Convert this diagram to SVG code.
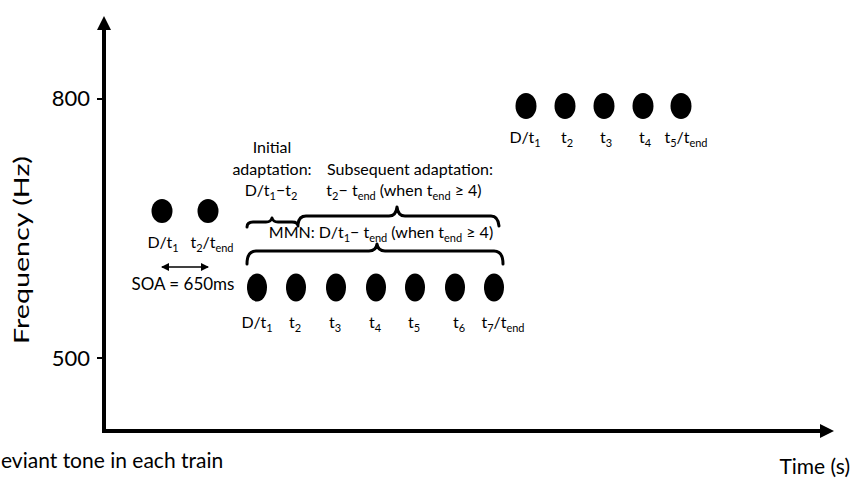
<svg xmlns="http://www.w3.org/2000/svg" width="853" height="479" viewBox="0 0 853 479">
  <style>
    text { font-family: Lato, "Liberation Sans", sans-serif; fill: #000; }
    .lbl { font-size: 16px; text-anchor: middle; }
    .note { font-size: 16px; text-anchor: middle; }
    .tick { font-size: 22px; text-anchor: end; }
    .axis-title { font-size: 21px; }
    .sub { font-size: 11px; }
    .tone { fill: #000; }
    .axis { stroke: #000; stroke-width: 4; fill: none; }
    .brace { stroke: #000; stroke-width: 3; fill: none; stroke-linecap: round; stroke-linejoin: round; }
  </style>
  <defs>
    <marker id="axisHead" markerUnits="userSpaceOnUse" markerWidth="14" markerHeight="14" viewBox="0 0 14 14" refX="2" refY="7" orient="auto">
      <path d="M0,0 L14,7 L0,14 Z" fill="#000"/>
    </marker>
    <marker id="smallHead" markerUnits="userSpaceOnUse" markerWidth="8" markerHeight="8" viewBox="0 0 8 8" refX="7" refY="4" orient="auto-start-reverse">
      <path d="M0,0 L8,4 L0,8 Z" fill="#000"/>
    </marker>
  </defs>

  <rect width="853" height="479" fill="#fff"/>

  <!-- axes -->
  <g id="axes">
    <line class="axis" x1="104" y1="433" x2="104" y2="28" marker-end="url(#axisHead)"/>
    <line class="axis" x1="102" y1="431" x2="822" y2="431" marker-end="url(#axisHead)"/>
    <line x1="97" y1="99" x2="104" y2="99" stroke="#000" stroke-width="2"/>
    <line x1="97" y1="358" x2="104" y2="358" stroke="#000" stroke-width="2"/>
    <text class="tick" x="90" y="106">800</text>
    <text class="tick" x="90" y="366">500</text>
    <text class="axis-title" transform="translate(29,250) rotate(-90)" text-anchor="middle" font-size="22" textLength="188" lengthAdjust="spacingAndGlyphs">Frequency (Hz)</text>
    <text class="axis-title" x="850" y="474" text-anchor="end">Time (s)</text>
    <text class="axis-title" x="1" y="468" font-size="19.5">eviant tone in each train</text>
  </g>

  <!-- two-tone train -->
  <g id="train-short">
    <ellipse class="tone" cx="162" cy="211" rx="10.5" ry="12"/>
    <ellipse class="tone" cx="208" cy="211" rx="10.5" ry="12"/>
    <text class="lbl" x="163" y="248">D/t<tspan class="sub" dy="4">1</tspan></text>
    <text class="lbl" x="212" y="248">t<tspan class="sub" dy="4">2</tspan><tspan dy="-4">/t</tspan><tspan class="sub" dy="4">end</tspan></text>
  </g>

  <!-- stimulus onset asynchrony -->
  <g id="soa">
    <line x1="162" y1="267" x2="208" y2="267" stroke="#000" stroke-width="1.5" marker-start="url(#smallHead)" marker-end="url(#smallHead)"/>
    <text x="183" y="290" font-size="17" text-anchor="middle">SOA = 650ms</text>
  </g>

  <!-- seven-tone train -->
  <g id="train-long">
    <ellipse class="tone" cx="257" cy="287.5" rx="10" ry="14"/>
    <ellipse class="tone" cx="296" cy="287.5" rx="10" ry="14"/>
    <ellipse class="tone" cx="336" cy="287.5" rx="10" ry="14"/>
    <ellipse class="tone" cx="376" cy="287.5" rx="10" ry="14"/>
    <ellipse class="tone" cx="415" cy="287.5" rx="10" ry="14"/>
    <ellipse class="tone" cx="455" cy="287.5" rx="10" ry="14"/>
    <ellipse class="tone" cx="494" cy="287.5" rx="10" ry="14"/>
    <text class="lbl" x="257" y="328">D/t<tspan class="sub" dy="4">1</tspan></text>
    <text class="lbl" x="295" y="328">t<tspan class="sub" dy="4">2</tspan></text>
    <text class="lbl" x="335" y="328">t<tspan class="sub" dy="4">3</tspan></text>
    <text class="lbl" x="375" y="328">t<tspan class="sub" dy="4">4</tspan></text>
    <text class="lbl" x="414" y="328">t<tspan class="sub" dy="4">5</tspan></text>
    <text class="lbl" x="459" y="328">t<tspan class="sub" dy="4">6</tspan></text>
    <text class="lbl" x="503" y="328">t<tspan class="sub" dy="4">7</tspan><tspan dy="-4">/t</tspan><tspan class="sub" dy="4">end</tspan></text>
  </g>

  <!-- five-tone train -->
  <g id="train-mid">
    <ellipse class="tone" cx="526" cy="106" rx="10.5" ry="13"/>
    <ellipse class="tone" cx="565" cy="106" rx="10.5" ry="13"/>
    <ellipse class="tone" cx="604" cy="106" rx="10.5" ry="13"/>
    <ellipse class="tone" cx="643" cy="106" rx="10.5" ry="13"/>
    <ellipse class="tone" cx="681" cy="106" rx="10.5" ry="13"/>
    <text class="lbl" x="525" y="143">D/t<tspan class="sub" dy="4">1</tspan></text>
    <text class="lbl" x="567" y="143">t<tspan class="sub" dy="4">2</tspan></text>
    <text class="lbl" x="606" y="143">t<tspan class="sub" dy="4">3</tspan></text>
    <text class="lbl" x="645" y="143">t<tspan class="sub" dy="4">4</tspan></text>
    <text class="lbl" x="686" y="143">t<tspan class="sub" dy="4">5</tspan><tspan dy="-4">/t</tspan><tspan class="sub" dy="4">end</tspan></text>
  </g>

  <!-- analysis windows -->
  <g id="braces">
    <path class="brace" d="M247,227 Q247,222 253,222 L266,222 Q271,222 272,218 Q273,222 278,222 L292,222 Q298,222 298,226"/>
    <path class="brace" d="M298,224 Q299,216 306,216 L389,216 Q396,216 397,207 Q398,216 405,216 L491,216 Q498,216 499,226"/>
    <path class="brace" d="M247,264 Q247,251 256,251 L369,251 Q376,251 377,244 Q378,251 385,251 L494,251 Q503,251 503,264"/>
  </g>

  <g id="labels-windows">
    <text class="note" x="272" y="153">Initial</text>
    <text class="note" x="272" y="175">adaptation:</text>
    <text class="note" x="271" y="196">D/t<tspan class="sub" dy="4">1</tspan><tspan dy="-4">−t</tspan><tspan class="sub" dy="4">2</tspan></text>
    <text class="note" x="410" y="175">Subsequent adaptation:</text>
    <text class="note" x="404" y="196">t<tspan class="sub" dy="4">2</tspan><tspan dy="-4">− t</tspan><tspan class="sub" dy="4">end</tspan><tspan dy="-4"> (when t</tspan><tspan class="sub" dy="4">end</tspan><tspan dy="-4"> ≥ 4)</tspan></text>
    <text class="note" x="381" y="238">MMN: D/t<tspan class="sub" dy="4">1</tspan><tspan dy="-4">− t</tspan><tspan class="sub" dy="4">end</tspan><tspan dy="-4"> (when t</tspan><tspan class="sub" dy="4">end</tspan><tspan dy="-4"> ≥ 4)</tspan></text>
  </g>
</svg>
